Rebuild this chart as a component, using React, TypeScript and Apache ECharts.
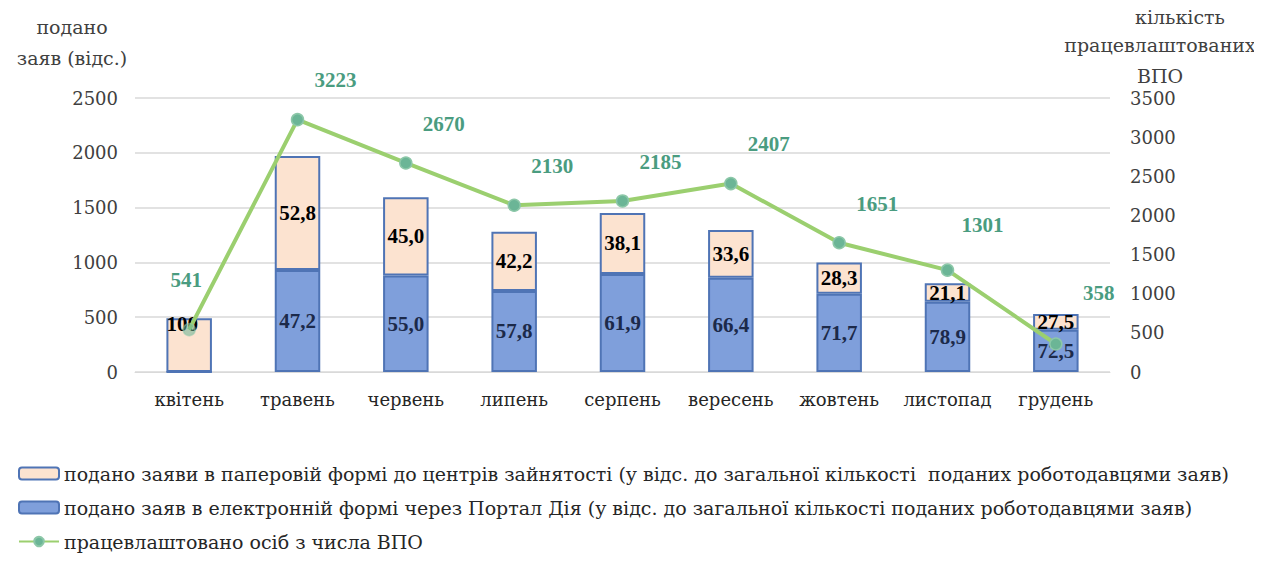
import React, { useEffect, useRef } from "react";
import * as echarts from "echarts";

const categories = ["квітень", "травень", "червень", "липень", "серпень", "вересень", "жовтень", "листопад", "грудень"];
// electronic applications (count, left axis) and paper applications (count, left axis)
const electronicCount = [0, 930, 880, 740, 895, 860, 715, 640, 385];
const paperCount = [490, 1040, 715, 540, 555, 435, 285, 170, 145];
// percentage labels
const electronicPct = [null, 47.2, 55.0, 57.8, 61.9, 66.4, 71.7, 78.9, 72.5];
const paperPct = [100, 52.8, 45.0, 42.2, 38.1, 33.6, 28.3, 21.1, 27.5];
// employed IDPs (right axis)
const employed = [541, 3223, 2670, 2130, 2185, 2407, 1651, 1301, 358];

const leftTicks = [0, 500, 1000, 1500, 2000, 2500];
const rightTicks = [0, 500, 1000, 1500, 2000, 2500, 3000, 3500];

const seriesNames = [
  "подано заяви в паперовій формі до центрів зайнятості (у відс. до загальної кількості  поданих роботодавцями заяв)",
  "подано заяв в електронній формі через Портал Дія (у відс. до загальної кількості поданих роботодавцями заяв)",
  "працевлаштовано осіб з числа ВПО",
];

const FONT = "DejaVu Serif";
const BOLD_FONT = "Liberation Serif";
const fmt = (v: number) => v.toFixed(1).replace(".", ",");

export default function App() {
  const ref = useRef<HTMLDivElement>(null);
  useEffect(() => {
    if (!ref.current) return;
    const chart = echarts.init(ref.current, undefined, { renderer: "svg" });
    const lineOffsets: Record<number, number[]> = { 0: [-3, -27], 7: [35, -23], 8: [43, -29] };
    const txt = (s: string, x: number, y: number) => ({
      type: "text",
      x,
      y,
      style: {
        text: s,
        fontFamily: FONT,
        fontSize: 19,
        fill: "#404040",
        textAlign: "center",
        textVerticalAlign: "middle",
      },
    });
    chart.setOption({
      animation: false,
      textStyle: { fontFamily: FONT },
      grid: { left: 135, right: 152, top: 98, bottom: 189 },
      legend: {
        orient: "vertical",
        left: 18,
        top: 464,
        padding: 0,
        itemWidth: 40,
        itemHeight: 12,
        itemGap: 15,
        textStyle: { fontFamily: FONT, fontSize: 19, color: "#262626" },
        data: seriesNames,
      },
      xAxis: {
        type: "category",
        data: categories,
        axisLine: { lineStyle: { color: "#d9d9d9" } },
        axisTick: { show: false },
        axisLabel: { fontFamily: FONT, fontSize: 18, color: "#262626", margin: 18, interval: 0 },
      },
      yAxis: [
        {
          type: "value",
          min: leftTicks[0],
          max: leftTicks[leftTicks.length - 1],
          interval: 500,
          axisLine: { show: false },
          axisTick: { show: false },
          splitLine: { lineStyle: { color: "#d9d9d9", width: 1.5 } },
          axisLabel: { fontFamily: FONT, fontSize: 18, color: "#404040", margin: 17, formatter: (v: number) => String(v) },
        },
        {
          type: "value",
          min: rightTicks[0],
          max: rightTicks[rightTicks.length - 1],
          interval: 500,
          axisLine: { show: false },
          axisTick: { show: false },
          splitLine: { show: false },
          axisLabel: { fontFamily: FONT, fontSize: 18, color: "#404040", margin: 20, formatter: (v: number) => String(v) },
        },
      ],
      graphic: [
        txt("подано", 72, 27),
        txt("заяв (відс.)", 72, 58),
        txt("кількість", 1180, 17),
        txt("працевлаштованих", 1160, 45),
        txt("ВПО", 1160, 76),
      ],
      series: [
        {
          name: seriesNames[1],
          type: "bar",
          stack: "apps",
          barWidth: "42%",
          data: electronicCount,
          itemStyle: { color: "#7f9fdb", borderColor: "#4f74b5", borderWidth: 2 },
          label: {
            show: true,
            position: "inside",
            fontFamily: BOLD_FONT,
            fontSize: 21,
            fontWeight: "bold",
            color: "#1c2a4a",
            formatter: (p: any) => (electronicPct[p.dataIndex] == null ? "" : fmt(electronicPct[p.dataIndex] as number)),
          },
          z: 2,
        },
        {
          name: seriesNames[0],
          type: "bar",
          stack: "apps",
          barWidth: "42%",
          data: paperCount.map((v, i) =>
            i === 0 ? { value: v, label: { position: "insideTop", offset: [-7, -10] } } : v
          ),
          itemStyle: { color: "#fce3d0", borderColor: "#4f74b5", borderWidth: 2 },
          label: {
            show: true,
            position: "inside",
            fontFamily: BOLD_FONT,
            fontSize: 21,
            fontWeight: "bold",
            color: "#000",
            formatter: (p: any) => (p.dataIndex === 0 ? String(paperPct[0]) : fmt(paperPct[p.dataIndex])),
          },
          z: 2,
        },
        {
          name: seriesNames[2],
          type: "line",
          yAxisIndex: 1,
          data: employed.map((v, i) => ({
            value: v,
            label: { offset: lineOffsets[i] || [38, -17], opacity: 1 },
            ...(i === 0 ? { itemStyle: { opacity: 0.55 } } : {}),
          })),
          lineStyle: { color: "#9bcf6f", width: 4 },
          symbol: "circle",
          symbolSize: 12,
          itemStyle: { color: "#6bb596", borderColor: "#8cc7a8", borderWidth: 1.5 },
          label: {
            show: true,
            position: "top",
            fontFamily: BOLD_FONT,
            fontSize: 21,
            fontWeight: "bold",
            color: "#4a9c80",
            opacity: 1,
          },
          z: 2,
        },
      ],
    });
    return () => chart.dispose();
  }, []);
  return <div ref={ref} style={{ width: 1262, height: 561, margin: -8 }} />;
}
